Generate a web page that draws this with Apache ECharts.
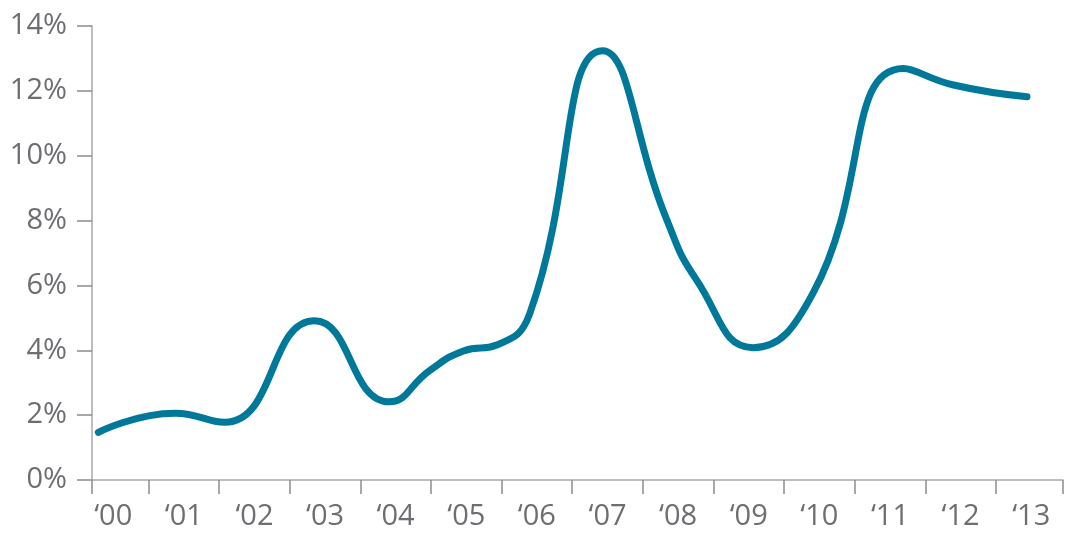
<!DOCTYPE html>
<html>
<head>
<meta charset="utf-8">
<script src="https://cdn.jsdelivr.net/npm/echarts@6/dist/echarts.min.js"></script>
<style>
html,body{margin:0;padding:0;background:#fff;}
#chart{width:1077px;height:544px;}
</style>
</head>
<body>
<div id="chart"></div>
<script>
// Points: x = fractional year, y = percent
const pointYears = [2000.29, 2001.375, 2002.08, 2003.35, 2004.41, 2004.99, 2005.46, 2005.93, 2006.40, 2007.43, 2008.34, 2008.76, 2009.56, 2010.41, 2011.69, 2012.40, 2013.44];
const pointRates = [1.47, 2.06, 1.78, 4.91, 2.41, 3.39, 3.98, 4.16, 5.14, 13.24, 8.02, 6.17, 4.08, 5.76, 12.69, 12.18, 11.82];
const categoryYears = [2000, 2001, 2002, 2003, 2004, 2005, 2006, 2007, 2008, 2009, 2010, 2011, 2012, 2013];
const categoryLabels = ['\u201800', '\u201801', '\u201802', '\u201803', '\u201804', '\u201805', '\u201806', '\u201807', '\u201808', '\u201809', '\u201810', '\u201811', '\u201812', '\u201813'];
const yTicks = [0, 2, 4, 6, 8, 10, 12, 14];

const FONT = '"Open Sans", "Noto Sans", sans-serif';
const TEXT = '#6d6e71';
const AXIS = '#a7a9ac';
const LINE = '#00789a';

const chart = echarts.init(document.getElementById('chart'), null, {renderer: 'canvas'});
chart.setOption({
  animation: false,
  backgroundColor: '#ffffff',
  grid: {left: 92, right: 14, top: 26, bottom: 64, containLabel: false},
  xAxis: [
    {
      type: 'value', position: 'bottom',
      min: 2000.2, max: 2013.95, minInterval: 1, maxInterval: 1,
      axisLine: {show: true, lineStyle: {color: AXIS, width: 1.5}},
      axisTick: {show: true, length: 14, lineStyle: {color: '#8a8c8f', width: 1.5}},
      axisLabel: {show: false},
      splitLine: {show: false}
    },
    {
      type: 'value', position: 'bottom',
      min: 1999.7, max: 2013.45, minInterval: 1, maxInterval: 1,
      axisLine: {show: false},
      axisTick: {show: false},
      splitLine: {show: false},
      axisLabel: {
        show: true, interval: 0, showMinLabel: false, showMaxLabel: false,
        margin: 22, color: TEXT, fontFamily: FONT, fontSize: 29,
        formatter: function (v) {
          const i = categoryYears.indexOf(Math.round(v));
          return (Math.abs(v - Math.round(v)) < 1e-6 && i >= 0) ? categoryLabels[i] : '';
        }
      }
    }
  ],
  yAxis: {
    type: 'value', min: yTicks[0], max: yTicks[yTicks.length - 1], interval: 2,
    axisLine: {show: true, lineStyle: {color: AXIS, width: 1.5}},
    axisTick: {show: true, length: 15, lineStyle: {color: '#8a8c8f', width: 1.5}},
    splitLine: {show: false},
    axisLabel: {margin: 25, color: TEXT, fontFamily: FONT, fontSize: 29, formatter: '{value}%'}
  },
  series: [{
    type: 'line',
    xAxisIndex: 0,
    data: pointYears.map((x, i) => [x, pointRates[i]]),
    smooth: 0.5,
    showSymbol: false,
    symbol: 'none',
    lineStyle: {color: LINE, width: 7, cap: 'round', join: 'round'}
  }]
});
</script>
</body>
</html>
